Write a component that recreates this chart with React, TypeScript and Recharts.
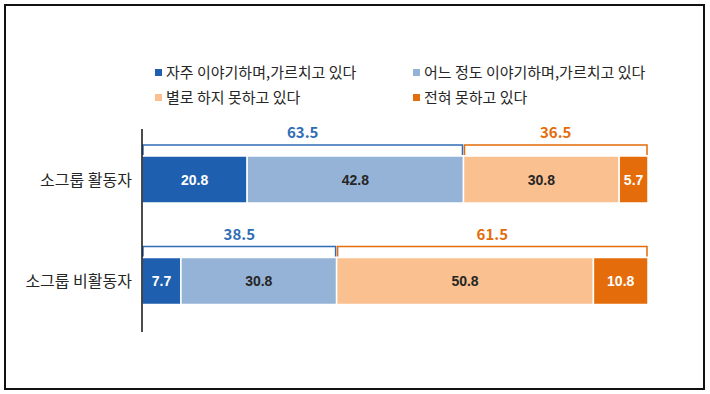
import { BarChart, Bar, XAxis, YAxis, LabelList } from 'recharts';

const groups = ['소그룹 활동자', '소그룹 비활동자'];
const often = [20.8, 7.7];
const somewhat = [42.8, 30.8];
const rarely = [30.8, 50.8];
const never = [5.7, 10.8];
const positiveTotals = [63.5, 38.5];
const negativeTotals = [36.5, 61.5];

const seriesNames = [
  '자주 이야기하며,가르치고 있다',
  '어느 정도 이야기하며,가르치고 있다',
  '별로 하지 못하고 있다',
  '전혀 못하고 있다',
];
const seriesColors = ['#1F5FAF', '#95B3D7', '#FAC08F', '#E46C0A'];
const labelColors = ['#ffffff', '#262626', '#262626', '#ffffff'];

const data = groups.map((name, i) => ({
  name,
  often: often[i],
  somewhat: somewhat[i],
  rarely: rarely[i],
  never: never[i],
  posTotal: positiveTotals[i],
  negTotal: negativeTotals[i],
}));

const FONT = '"Noto Sans CJK KR", "Noto Sans", sans-serif';
const NARROW = '"Liberation Sans Narrow", "Liberation Sans", Arial, sans-serif';

const segment = (fill: string) => (props: any) => {
  const { x, y, width, height } = props;
  return <rect x={x} y={y} width={width} height={height} fill={fill} stroke="#fff" strokeWidth={1.5} />;
};

// the last bar of a group also draws the bracket over itself and the previous bar
const bracketSegment = (fill: string, key: string, prevKey: string, totalKey: string, color: string) => (props: any) => {
  const { x, y, width, height, payload } = props;
  const ppu = width / payload[key];
  const x0 = x - payload[prevKey] * ppu + 1;
  const x1 = x + width - 1;
  const top = y - 11;
  return (
    <g>
      <rect x={x} y={y} width={width} height={height} fill={fill} stroke="#fff" strokeWidth={1.5} />
      <path d={`M${x0},${y - 1}V${top}H${x1}V${y - 1}`} fill="none" stroke={color} strokeWidth={1.5} />
      <text x={(x0 + x1) / 2} y={top - 7} textAnchor="middle" fill={color} fontSize={15} fontWeight={700} fontFamily={FONT}>
        {payload[totalKey]}
      </text>
    </g>
  );
};

const valueLabel = (color: string) => (props: any) => {
  const { x, y, width, height, value } = props;
  return (
    <text x={x + width / 2} y={y + height / 2 + 5} textAnchor="middle" fill={color} fontSize={14} fontWeight={700} fontFamily={NARROW}>
      {value}
    </text>
  );
};

const CategoryTick = (props: any) => {
  const { x, y, payload } = props;
  return (
    <text x={x - 2} y={y + 6} textAnchor="end" fill="#262626" fontSize={16} fontFamily={FONT}>
      {payload.value}
    </text>
  );
};

const legendPos = [
  { left: 155, top: 63 },
  { left: 413, top: 63 },
  { left: 155, top: 88 },
  { left: 413, top: 88 },
];

export default function App() {
  return (
    <div style={{ position: 'absolute', left: 0, top: 0, width: 710, height: 394, background: '#fff' }}>
      <div style={{ position: 'absolute', left: 4, top: 4, width: 697, height: 382, border: '2px solid #111' }} />
      {seriesNames.map((n, i) => (
        <div key={n} style={{ position: 'absolute', left: legendPos[i].left, top: legendPos[i].top, display: 'flex', alignItems: 'center', fontFamily: FONT, fontSize: 15, color: '#262626', whiteSpace: 'nowrap', lineHeight: '18px' }}>
          <span style={{ display: 'inline-block', width: 7, height: 7, background: seriesColors[i], marginRight: 4 }} />
          {n}
        </div>
      ))}
      <div style={{ position: 'absolute', left: 0, top: 0 }}>
        <BarChart width={710} height={394} data={data} layout="vertical" margin={{ top: 129, right: 62, bottom: 62, left: 2 }}>
          <XAxis type="number" hide domain={[0, 'dataMax']} />
          <YAxis type="category" dataKey="name" width={140} axisLine={{ stroke: '#111', strokeWidth: 1.5 }} tickLine={false} tick={<CategoryTick />} />
          <Bar dataKey="often" stackId="s" barSize={47} isAnimationActive={false} shape={segment(seriesColors[0])}>
            <LabelList dataKey="often" content={valueLabel(labelColors[0])} />
          </Bar>
          <Bar dataKey="somewhat" stackId="s" barSize={47} isAnimationActive={false} shape={bracketSegment(seriesColors[1], 'somewhat', 'often', 'posTotal', '#2E6DB4')}>
            <LabelList dataKey="somewhat" content={valueLabel(labelColors[1])} />
          </Bar>
          <Bar dataKey="rarely" stackId="s" barSize={47} isAnimationActive={false} shape={segment(seriesColors[2])}>
            <LabelList dataKey="rarely" content={valueLabel(labelColors[2])} />
          </Bar>
          <Bar dataKey="never" stackId="s" barSize={47} isAnimationActive={false} shape={bracketSegment(seriesColors[3], 'never', 'rarely', 'negTotal', '#E46C0A')}>
            <LabelList dataKey="never" content={valueLabel(labelColors[3])} />
          </Bar>
        </BarChart>
      </div>
    </div>
  );
}
